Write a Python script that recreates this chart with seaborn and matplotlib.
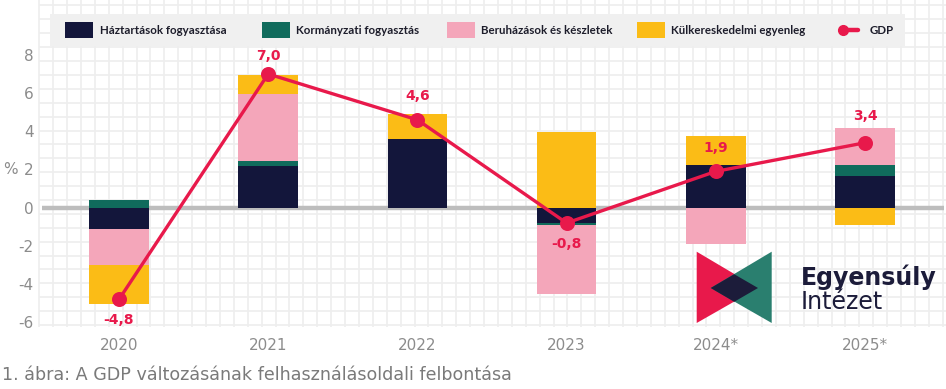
import numpy as np
import matplotlib
matplotlib.use("Agg")
import matplotlib.pyplot as plt
from matplotlib.patches import Rectangle, Polygon
from matplotlib.lines import Line2D
import seaborn as sns

# ---------------- data ----------------
years = ["2020", "2021", "2022", "2023", "2024*", "2025*"]
households = [-1.1, 2.2, 3.6, -0.8, 2.25, 1.65]
government = [0.4, 0.25, 0.0, -0.1, 0.0, 0.6]
investment = [-1.9, 3.5, 0.0, -3.6, -1.9, 1.9]
net_exports = [-2.05, 1.0, 1.3, 3.95, 1.5, -0.9]
gdp = [-4.8, 7.0, 4.6, -0.8, 1.9, 3.4]
gdp_labels = ["-4,8", "7,0", "4,6", "-0,8", "1,9", "3,4"]
series_names = ["Háztartások fogyasztása", "Kormányzati fogyasztás",
                "Beruházások és készletek", "Külkereskedelmi egyenleg"]
gdp_name = "GDP"
y_ticks = [-6, -4, -2, 0, 2, 4, 6, 8]
y_ticklabels = ["-6", "-4", "-2", "0", "2", "4", "6", "8"]
caption = "1. ábra: A GDP változásának felhasználásoldali felbontása"

# ---------------- style ----------------
colors = ["#13163b", "#106b5c", "#f4a6ba", "#fbbc16"]
red = "#e8194b"
gray_txt = "#8c8c8c"
label_offsets = [-15, 13, 17, -15, 17, 19]  # points, + = up
wide_font = ["DejaVu Sans"]

sns.set_theme(style="white")
plt.rcParams["font.family"] = ["Lato", "DejaVu Sans"]
plt.rcParams["axes.unicode_minus"] = False

W, H = 946, 389
fig = plt.figure(figsize=(W / 100, H / 100), dpi=100)
fig.patch.set_facecolor("white")

# background graph-paper grid (pixel coordinates)
bg = fig.add_axes([0, 0, 1, 1], zorder=0)
bg.set_xlim(0, W)
bg.set_ylim(H, 0)
bg.axis("off")
gx = np.arange(39.2, W, 13.9)
gy = np.arange(241.7 - 13.9 * 17, 330, 13.9)
bg.vlines(gx, 0, 327, color="#eeeeee", lw=1.2)
bg.hlines(gy, 39, W, color="#eeeeee", lw=1.2)

# main axes
ax_left, ax_right, ax_top, ax_bottom = 42, 944, 47, 330
ax = fig.add_axes([ax_left / W, 1 - ax_bottom / H, (ax_right - ax_left) / W,
                   (ax_bottom - ax_top) / H], zorder=1)
ax.set_facecolor("none")

ax.axhline(0, color="#bdbdbd", lw=3.2, zorder=2)

comp = np.array([households, government, investment, net_exports])
pos = np.clip(comp, 0, None).cumsum(axis=0)
neg = np.clip(comp, None, 0).cumsum(axis=0)
for i in reversed(range(len(series_names))):
    for cum in (pos[i], neg[i]):
        sns.barplot(x=years, y=cum, order=years, color=colors[i], saturation=1,
                    width=0.4, errorbar=None, linewidth=0, ax=ax, zorder=3)

sns.pointplot(x=years, y=gdp, order=years, color=red, errorbar=None,
              markers="o", markersize=9, linewidth=2.4, ax=ax, zorder=5)

for i, (v, lab) in enumerate(zip(gdp, gdp_labels)):
    ax.annotate(lab, (i, v), xytext=(0, label_offsets[i]), textcoords="offset points",
                ha="center", va="center", color=red, fontsize=10,
                fontweight="bold", family=wide_font, zorder=6)

px_per_cat = 149.2
c0 = 119
ax.set_xlim((ax_left - c0) / px_per_cat, (ax_right - c0) / px_per_cat)
zero_px, px_per_unit = 207.7, 19.1
ax.set_ylim(-(ax_bottom - zero_px) / px_per_unit, (zero_px - ax_top) / px_per_unit)
ax.set_yticks(y_ticks)
ax.set_yticklabels(y_ticklabels)
ax.tick_params(axis="both", length=0, labelcolor=gray_txt, labelsize=11)
ax.tick_params(axis="x", pad=6)
ax.tick_params(axis="y", pad=6)
for lab in ax.get_xticklabels() + ax.get_yticklabels():
    lab.set_family(wide_font)
for s in ax.spines.values():
    s.set_visible(False)
ax.grid(False)
ax.set_xlabel("")
ax.set_ylabel("%", rotation=0, color=gray_txt, fontsize=11, va="center", ha="center",
              family=wide_font)
ax.yaxis.set_label_coords((10 - ax_left) / (ax_right - ax_left),
                          (2 - ax.get_ylim()[0]) / (ax.get_ylim()[1] - ax.get_ylim()[0]))

# overlay: legend and logo (pixel coordinates)
ov = fig.add_axes([0, 0, 1, 1], zorder=3)
ov.set_xlim(0, W)
ov.set_ylim(H, 0)
ov.axis("off")
ov.patch.set_alpha(0)

ov.add_patch(Rectangle((50, 14), 855, 32, facecolor="#f0f0f0", edgecolor="none"))
sq_x = [65, 262, 447, 637]
tx_x = [100, 296, 481, 671]
for i, name in enumerate(series_names):
    ov.add_patch(Rectangle((sq_x[i], 22), 28, 16, facecolor=colors[i], edgecolor="none"))
    ov.text(tx_x[i], 30, name, ha="left", va="center", fontsize=8.3,
            fontweight="bold", color="#1d1d2b")
ov.add_line(Line2D([841, 858], [30, 30], color=red, lw=3.2, solid_capstyle="round"))
ov.add_line(Line2D([843], [30], color=red, marker="o", markersize=7, lw=0))
ov.text(870, 30, gdp_name, ha="left", va="center", fontsize=8.3,
        fontweight="bold", color="#1d1d2b")

# logo
ov.add_patch(Polygon([(696.7, 251.7), (696.7, 323), (758, 288)], closed=True,
                     facecolor=red, edgecolor="none"))
ov.add_patch(Polygon([(771.7, 251.7), (771.7, 323), (710.7, 288)], closed=True,
                     facecolor="#2a7f6f", edgecolor="none"))
ov.add_patch(Polygon([(710.7, 288), (734.2, 274.2), (758, 288), (734.2, 301.8)], closed=True,
                     facecolor="#1c1c3a", edgecolor="none"))
ov.text(801, 285, "Egyensúly", ha="left", va="baseline", fontsize=17,
        fontweight="bold", color="#1c1c3a", family=wide_font)
ov.text(801, 309, "Intézet", ha="left", va="baseline", fontsize=17,
        color="#1c1c3a", family=wide_font)

fig.text(2 / W, 1 - 375 / H, caption, ha="left", va="center",
         fontsize=12.6, color="#7a7a7a", family=wide_font)

fig.savefig("out.png", dpi=100, facecolor="white")
